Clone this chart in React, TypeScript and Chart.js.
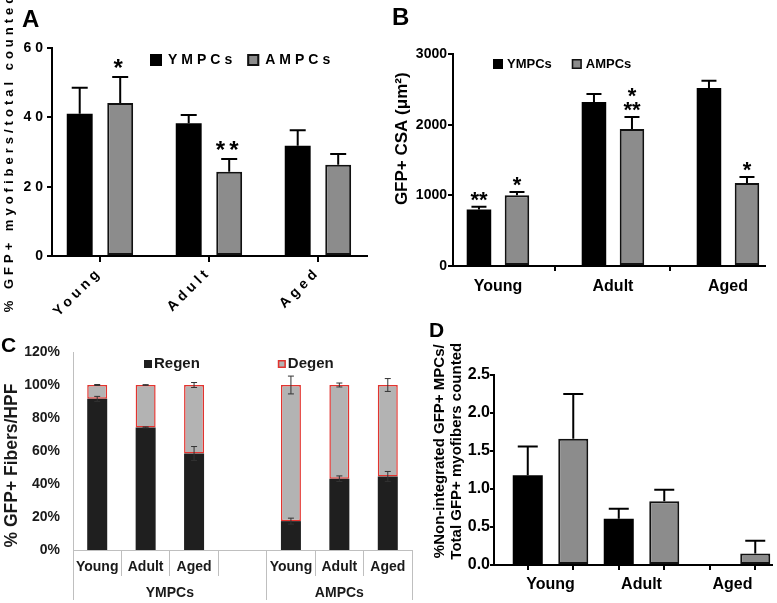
import React, { useEffect, useRef } from 'react';
import { Chart, registerables, CategoryScale } from 'chart.js';

// ---------------- data ----------------
// Panel A
const aCategories = ['Young', 'Adult', 'Aged'];
const aYMPCs = [41.0, 38.3, 31.8];
const aYMPCsErr = [7.5, 2.4, 4.5];
const aAMPCs = [44.1, 24.3, 26.3];
const aAMPCsErr = [7.5, 3.7, 3.1];
const aStarsY = ['', '', ''];
const aStarsA = ['*', '**', ''];
const aYMax = 60;
const aYStep = 20;

// Panel B
const bCategories = ['Young', 'Adult', 'Aged'];
const bYMPCs = [800, 2320, 2520];
const bYMPCsErr = [38, 115, 100];
const bAMPCs = [1000, 1940, 1175];
const bAMPCsErr = [47, 168, 85];
const bStarsY = ['**', '', ''];
const bStarsA = ['*', '**\n*', '*'];
const bYMax = 3000;
const bYStep = 1000;

// Panel C
const cCategories = ['Young', 'Adult', 'Aged', '', 'Young', 'Adult', 'Aged'];
const cGroups = ['YMPCs', 'AMPCs'];
const cGroupSizes = [4, 3];
const cRegen = [91.6, 74.3, 58.5, null, 17.5, 43.2, 44.6];
const cRegenErr = [1.5, 0.3, 4.2, null, 1.8, 1.7, 3.0];
const cDegen = [8.4, 25.7, 41.5, null, 82.5, 56.8, 55.4];
const cDegenErr = [0.3, 0.2, 1.5, null, 5.4, 1.2, 3.9];
const cYMax = 120;
const cYStep = 20;

// Panel D
const dCategories = ['Young', 'Adult', 'Aged'];
const dYMPCs = [1.18, 0.61, 0];
const dYMPCsErr = [0.38, 0.13, 0];
const dAMPCs = [1.66, 0.84, 0.15];
const dAMPCsErr = [0.59, 0.15, 0.17];
const dYMax = 2.5;
const dYStep = 0.5;

// ---------------- helpers ----------------
const FONT = '"Liberation Sans", Arial, Helvetica, sans-serif';
const bold = (size: number, lineHeight?: number) =>
  lineHeight ? { family: FONT, size, weight: 'bold' as const, lineHeight } : { family: FONT, size, weight: 'bold' as const };

class ShiftedCategoryScale extends CategoryScale {
  static id = 'shiftedCategory';
  static defaults = CategoryScale.defaults;
  configure() {
    super.configure();
    const o: any = this.options;
    if (typeof o.shiftStart === 'number' && typeof o.shiftRange === 'number') {
      (this as any)._startValue = o.shiftStart;
      (this as any)._valueRange = o.shiftRange;
    }
  }
}

Chart.register(...registerables, ShiftedCategoryScale as any);

const letterSpacingPlugin = {
  id: 'letterSpacing',
  beforeUpdate(chart: any, _a: any, opts: any) {
    if (opts && opts.value) chart.ctx.letterSpacing = opts.value;
  },
  beforeDraw(chart: any, _a: any, opts: any) {
    if (opts && opts.value) chart.ctx.letterSpacing = opts.value;
  },
};

const errorBarsPlugin = {
  id: 'errorBars',
  afterDatasetsDraw(chart: any, _a: any, o: any) {
    const ctx = chart.ctx;
    chart.data.datasets.forEach((ds: any, di: number) => {
      const errs = ds.errors;
      if (!errs) return;
      const meta = chart.getDatasetMeta(di);
      const ys = chart.scales[meta.yAxisID];
      const unit = Math.abs(ys.getPixelForValue(0) - ys.getPixelForValue(1));
      meta.data.forEach((el: any, i: number) => {
        const e = errs[i];
        const v = ds.data[i];
        if (e == null || v == null || !e) return;
        const { x, y } = el.getProps(['x', 'y'], true);
        const up = y - e * unit;
        const down = y + e * unit;
        ctx.save();
        ctx.strokeStyle = o.color;
        ctx.lineWidth = o.lineWidth;
        ctx.beginPath();
        ctx.moveTo(x, o.both ? down : y);
        ctx.lineTo(x, up);
        ctx.moveTo(x - o.cap, up);
        ctx.lineTo(x + o.cap, up);
        if (o.both) {
          ctx.moveTo(x - o.cap, down);
          ctx.lineTo(x + o.cap, down);
        }
        ctx.stroke();
        ctx.restore();
      });
    });
  },
};

const starsPlugin = {
  id: 'stars',
  afterDatasetsDraw(chart: any, _a: any, o: any) {
    const ctx = chart.ctx;
    chart.data.datasets.forEach((ds: any, di: number) => {
      if (!ds.stars) return;
      const meta = chart.getDatasetMeta(di);
      const ys = chart.scales[meta.yAxisID];
      const unit = Math.abs(ys.getPixelForValue(0) - ys.getPixelForValue(1));
      meta.data.forEach((el: any, i: number) => {
        const s = ds.stars[i];
        if (!s) return;
        const { x, y } = el.getProps(['x', 'y'], true);
        const top = y - (ds.errors && ds.errors[i] ? ds.errors[i] : 0) * unit;
        const lines = String(s).split('\n');
        ctx.save();
        ctx.font = o.font;
        ctx.fillStyle = o.color;
        ctx.textAlign = 'center';
        ctx.textBaseline = 'alphabetic';
        lines.forEach((ln: string, k: number) => {
          ctx.fillText(ln, x, top + o.offset - k * o.lineGap);
        });
        ctx.restore();
      });
    });
  },
};

const boxLegendPlugin = {
  id: 'boxLegend',
  afterDraw(chart: any, _a: any, o: any) {
    if (!o || o.x == null) return;
    const ctx = chart.ctx;
    ctx.save();
    ctx.font = o.font;
    ctx.textBaseline = 'middle';
    ctx.textAlign = 'left';
    let x = o.x;
    const b = o.box;
    chart.data.datasets.forEach((ds: any) => {
      ctx.fillStyle = ds.backgroundColor;
      ctx.fillRect(x, o.y - b / 2, b, b);
      if (ds.borderWidth) {
        const lw = o.boxBorder || ds.borderWidth;
        ctx.lineWidth = lw;
        ctx.strokeStyle = ds.borderColor;
        ctx.strokeRect(x + lw / 2, o.y - b / 2 + lw / 2, b - lw, b - lw);
      }
      x += b + o.gap;
      ctx.fillStyle = o.color;
      ctx.fillText(ds.label, x, o.y);
      x += ctx.measureText(ds.label).width + o.itemGap;
    });
    ctx.restore();
  },
};

const panelTextPlugin = {
  id: 'panelText',
  afterDraw(chart: any, _a: any, o: any) {
    if (!o || !o.text) return;
    const ctx = chart.ctx;
    ctx.save();
    ctx.font = o.font;
    ctx.fillStyle = '#000';
    ctx.textAlign = 'left';
    ctx.textBaseline = 'alphabetic';
    ctx.fillText(o.text, o.x, o.y);
    ctx.restore();
  },
};

const commonPlugins = [errorBarsPlugin, starsPlugin, boxLegendPlugin, panelTextPlugin];
const plainNumber = (v: any) => String(v);

// ---------------- configs ----------------
function configA(): any {
  return {
    type: 'bar',
    data: {
      labels: aCategories,
      datasets: [
        {
          label: 'YMPCs', data: aYMPCs, errors: aYMPCsErr, stars: aStarsY,
          backgroundColor: '#000000', borderColor: '#000000', borderWidth: 0,
          categoryPercentage: 0.743, barPercentage: 0.64,
        },
        {
          label: 'AMPCs', data: aAMPCs, errors: aAMPCsErr, stars: aStarsA,
          backgroundColor: '#8c8c8c', borderColor: '#111111', borderWidth: 2, borderSkipped: false,
          categoryPercentage: 0.743, barPercentage: 0.64,
        },
      ],
    },
    options: {
      responsive: false, maintainAspectRatio: false, animation: false, devicePixelRatio: 1,
      layout: { padding: { left: 0, top: 48, right: 410, bottom: 279 } },
      scales: {
        x: {
          type: 'shiftedCategory', shiftStart: -0.44, shiftRange: 2.89, offset: true,
          grid: { display: true, drawOnChartArea: false, offset: false, tickLength: 6, color: '#000', lineWidth: 2 },
          border: { color: '#000', width: 2 },
          ticks: { minRotation: 45, maxRotation: 45, autoSkip: false, font: bold(14), color: '#000', padding: 2 },
          afterFit: (s: any) => { s.height = 68; },
        },
        y: {
          min: 0, max: aYMax,
          ticks: { stepSize: aYStep, font: bold(14), color: '#000', padding: 0, callback: plainNumber },
          grid: { drawOnChartArea: false, tickLength: 5, color: '#000', lineWidth: 2 },
          border: { color: '#000', width: 2 },
          title: { display: true, text: '% GFP+ myofibers/total counted', font: bold(13), color: '#000', padding: { top: 2, bottom: 0 } },
          afterFit: (s: any) => { s.width = 52; },
        },
      },
      plugins: {
        legend: { display: false }, tooltip: { enabled: false },
        letterSpacing: { value: '4px' },
        errorBars: { color: '#000', lineWidth: 2, cap: 8, both: false },
        stars: { font: `bold 24px ${FONT}`, color: '#000', offset: -1, lineGap: 14 },
        boxLegend: { x: 150, y: 60, box: 12, gap: 6, itemGap: 11, font: `bold 14px ${FONT}`, color: '#000', boxBorder: 2 },
        panelText: { text: 'A', x: 22, y: 27, font: `bold 24px ${FONT}` },
      },
    },
    plugins: [letterSpacingPlugin, ...commonPlugins],
  };
}

function configB(): any {
  return {
    type: 'bar',
    data: {
      labels: bCategories,
      datasets: [
        {
          label: 'YMPCs', data: bYMPCs, errors: bYMPCsErr, stars: bStarsY,
          backgroundColor: '#000000', borderColor: '#000000', borderWidth: 0,
          categoryPercentage: 0.661, barPercentage: 0.645,
        },
        {
          label: 'AMPCs', data: bAMPCs, errors: bAMPCsErr, stars: bStarsA,
          backgroundColor: '#8c8c8c', borderColor: '#111111', borderWidth: 2, borderSkipped: false,
          categoryPercentage: 0.661, barPercentage: 0.645,
        },
      ],
    },
    options: {
      responsive: false, maintainAspectRatio: false, animation: false, devicePixelRatio: 1,
      layout: { padding: { left: 390, top: 54, right: 12, bottom: 303 } },
      scales: {
        x: {
          type: 'shiftedCategory', shiftStart: -0.391, shiftRange: 2.713, offset: true,
          grid: { display: true, drawOnChartArea: false, offset: true, tickLength: 5, color: '#000', lineWidth: 2 },
          border: { color: '#000', width: 2 },
          ticks: { maxRotation: 0, autoSkip: false, font: bold(16), color: '#000', padding: 6 },
          afterFit: (s: any) => { s.height = 34; },
        },
        y: {
          min: 0, max: bYMax,
          ticks: { stepSize: bYStep, font: bold(14), color: '#000', padding: 1, callback: plainNumber },
          grid: { drawOnChartArea: false, tickLength: 5, color: '#000', lineWidth: 2 },
          border: { color: '#000', width: 2 },
          title: { display: true, text: '         GFP+ CSA (\u03bcm\u00b2)', font: bold(17), color: '#000', padding: { top: 2, bottom: 0 } },
          afterFit: (s: any) => { s.width = 63; },
        },
      },
      plugins: {
        legend: { display: false }, tooltip: { enabled: false },
        errorBars: { color: '#000', lineWidth: 2, cap: 7.5, both: false },
        stars: { font: `bold 22px ${FONT}`, color: '#000', offset: 0, lineGap: 14 },
        boxLegend: { x: 493, y: 64, box: 10, gap: 4, itemGap: 20, font: `bold 13px ${FONT}`, color: '#000', boxBorder: 1.5 },
        panelText: { text: 'B', x: 392, y: 25, font: `bold 24px ${FONT}` },
      },
    },
    plugins: commonPlugins,
  };
}

function configC(): any {
  const bounds: number[] = [0];
  const centers: number[] = [];
  cGroupSizes.forEach((n) => {
    const start = bounds[bounds.length - 1];
    centers.push(start + n / 2);
    bounds.push(start + n);
  });
  const total = bounds[bounds.length - 1];
  const groupTicks = [...bounds, ...centers].sort((a, b) => a - b);
  const textColor = '#1a1a1a';
  const lineColor = '#bfbfbf';
  return {
    type: 'bar',
    data: {
      labels: cCategories,
      datasets: [
        {
          label: 'Regen', data: cRegen, errors: cRegenErr,
          backgroundColor: '#1f1f1f', borderColor: '#1f1f1f', borderWidth: 0,
          categoryPercentage: 1, barPercentage: 0.413,
        },
        {
          label: 'Degen', data: cDegen, errors: cDegenErr,
          backgroundColor: '#b3b3b3', borderColor: '#e3342f', borderWidth: 1.5, borderSkipped: false,
          categoryPercentage: 1, barPercentage: 0.413,
        },
      ],
    },
    options: {
      responsive: false, maintainAspectRatio: false, animation: false, devicePixelRatio: 1,
      layout: { padding: { left: 0, top: 352, right: 365, bottom: 0 } },
      scales: {
        x: {
          type: 'category', stacked: true, offset: true, position: 'bottom', weight: 0,
          grid: { display: true, drawOnChartArea: false, offset: true, tickLength: 26, color: lineColor, lineWidth: 1 },
          border: { color: lineColor, width: 1 },
          ticks: { maxRotation: 0, autoSkip: false, font: bold(14), color: textColor, padding: -17 },
          afterFit: (s: any) => { s.height = 26; },
        },
        xg: {
          type: 'linear', position: 'bottom', weight: 1, min: 0, max: total, offset: false,
          afterBuildTicks: (s: any) => { s.ticks = groupTicks.map((v) => ({ value: v })); },
          ticks: {
            autoSkip: false, maxRotation: 0, font: bold(14), color: textColor, padding: -15,
            callback: (v: any) => { const k = centers.indexOf(Number(v)); return k >= 0 ? cGroups[k] : ''; },
          },
          grid: {
            display: true, drawOnChartArea: false, offset: false, tickLength: 24, lineWidth: 1,
            color: (ctx: any) => (ctx.tick && bounds.includes(ctx.tick.value) ? lineColor : 'rgba(0,0,0,0)'),
          },
          border: { display: false },
          afterFit: (s: any) => { s.height = 27; },
        },
        y: {
          stacked: true, min: 0, max: cYMax,
          ticks: { stepSize: cYStep, font: bold(14), color: textColor, padding: 13, callback: (v: any) => `${v}%` },
          grid: { display: false, drawTicks: false },
          border: { color: lineColor, width: 1 },
          title: { display: true, text: '% GFP+ Fibers/HPF      ', font: bold(17.5), color: textColor, padding: { top: 2, bottom: 0 } },
          afterFit: (s: any) => { s.width = 73; },
        },
      },
      plugins: {
        legend: { display: false }, tooltip: { enabled: false },
        errorBars: { color: '#333333', lineWidth: 1, cap: 3, both: true },
        boxLegend: { x: 144, y: 364, box: 8, gap: 2, itemGap: 78, font: `bold 15px ${FONT}`, color: textColor, boxBorder: 1.5 },
        panelText: { text: 'C', x: 1, y: 352, font: `bold 21px ${FONT}` },
      },
    },
    plugins: commonPlugins,
  };
}

function configD(): any {
  return {
    type: 'bar',
    data: {
      labels: dCategories,
      datasets: [
        {
          label: 'YMPCs', data: dYMPCs, errors: dYMPCsErr, xAxisID: 'x', yAxisID: 'y',
          backgroundColor: '#000000', borderColor: '#000000', borderWidth: 0,
          categoryPercentage: 1, barPercentage: 0.66,
        },
        {
          label: 'AMPCs', data: dAMPCs, errors: dAMPCsErr, xAxisID: 'x', yAxisID: 'y',
          backgroundColor: '#8c8c8c', borderColor: '#111111', borderWidth: 2, borderSkipped: false,
          categoryPercentage: 1, barPercentage: 0.66,
        },
      ],
    },
    options: {
      responsive: false, maintainAspectRatio: false, animation: false, devicePixelRatio: 1,
      layout: { padding: { left: 425, top: 375, right: 5, bottom: 8 } },
      scales: {
        xt: {
          type: 'shiftedCategory', labels: ['', '', '', '', '', ''], shiftStart: -0.742, shiftRange: 6.11,
          position: 'bottom', weight: 0, offset: true,
          grid: { display: true, drawOnChartArea: false, offset: false, tickLength: 5, color: '#000', lineWidth: 2 },
          border: { color: '#000', width: 2 },
          ticks: { display: false },
          afterFit: (s: any) => { s.height = 5; },
        },
        x: {
          type: 'shiftedCategory', shiftStart: -0.621, shiftRange: 3.055, position: 'bottom', weight: 1, offset: true,
          grid: { display: false, drawTicks: false },
          border: { display: false },
          ticks: { maxRotation: 0, autoSkip: false, font: bold(16), color: '#000', padding: 5 },
          afterFit: (s: any) => { s.height = 25; },
        },
        y: {
          min: 0, max: dYMax,
          ticks: { stepSize: dYStep, font: bold(16), color: '#000', padding: 0, callback: (v: any) => Number(v).toFixed(1) },
          grid: { drawOnChartArea: false, tickLength: 4, color: '#000', lineWidth: 2 },
          border: { color: '#000', width: 2 },
          title: {
            display: true,
            text: ['         %Non-integrated GFP+ MPCs/', '         Total GFP+ myofibers counted'],
            font: bold(15, 1.1), color: '#000', padding: { top: 7, bottom: 0 },
          },
          afterFit: (s: any) => { s.width = 69; },
        },
      },
      plugins: {
        legend: { display: false }, tooltip: { enabled: false },
        errorBars: { color: '#000', lineWidth: 2, cap: 10, both: false },
        panelText: { text: 'D', x: 429, y: 337, font: `bold 21px ${FONT}` },
      },
    },
    plugins: commonPlugins,
  };
}

export default function App() {
  const aRef = useRef<HTMLCanvasElement>(null);
  const bRef = useRef<HTMLCanvasElement>(null);
  const cRef = useRef<HTMLCanvasElement>(null);
  const dRef = useRef<HTMLCanvasElement>(null);

  useEffect(() => {
    const charts: Chart[] = [];
    const pairs: [React.RefObject<HTMLCanvasElement | null>, () => any][] = [
      [aRef, configA], [bRef, configB], [cRef, configC], [dRef, configD],
    ];
    pairs.forEach(([r, cfg]) => {
      if (r.current) charts.push(new Chart(r.current, cfg()));
    });
    return () => charts.forEach((c) => c.destroy());
  }, []);

  const canvasStyle: React.CSSProperties = { position: 'absolute', left: 0, top: 0, width: 777, height: 603 };
  return (
    <div style={{ position: 'fixed', left: 0, top: 0, width: 777, height: 603, background: '#fff', overflow: 'hidden' }}>
      <canvas ref={aRef} width={777} height={603} style={canvasStyle} />
      <canvas ref={bRef} width={777} height={603} style={canvasStyle} />
      <canvas ref={cRef} width={777} height={603} style={canvasStyle} />
      <canvas ref={dRef} width={777} height={603} style={canvasStyle} />
    </div>
  );
}
